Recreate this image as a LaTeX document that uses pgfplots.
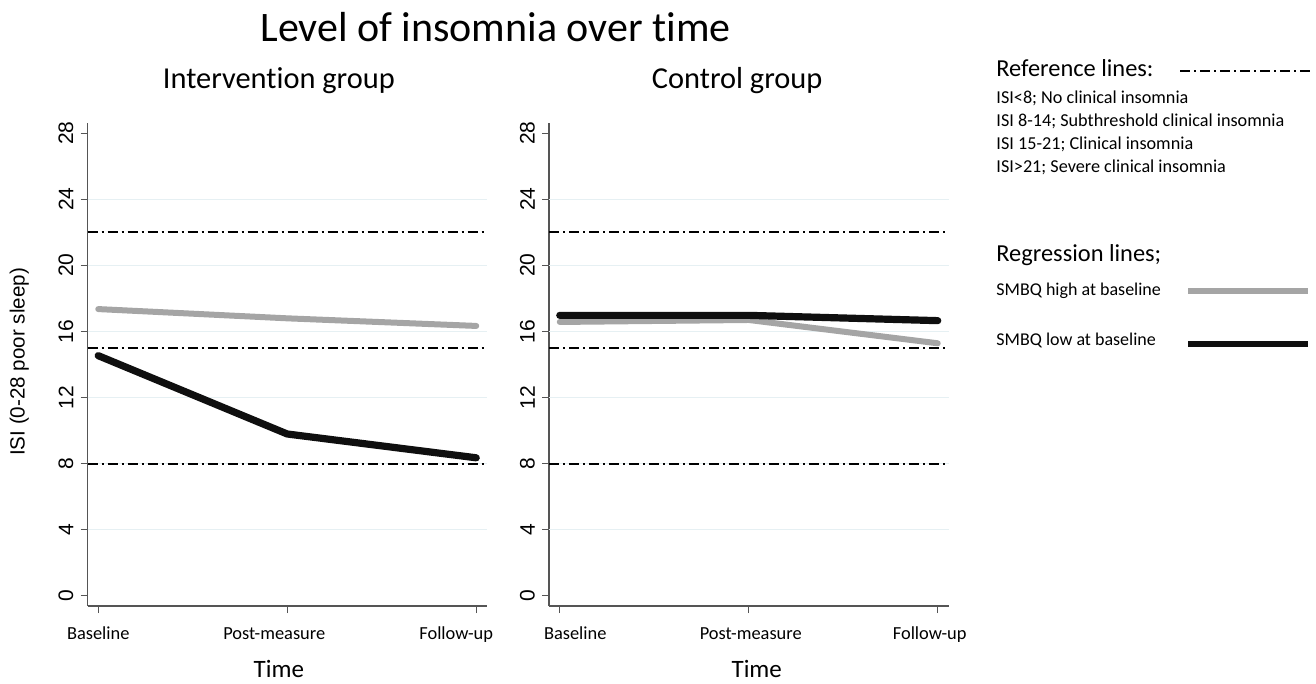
\documentclass[border=0pt]{standalone}
\usepackage{pgfplots}
\pgfplotsset{compat=1.18}
\usepackage{fontspec}
\setmainfont{Carlito}[Ligatures={NoCommon}]
\newfontfamily\arialfont{Liberation Sans}
\definecolor{hiGray}{RGB}{165,165,165}
\definecolor{loBlack}{RGB}{15,15,15}
\definecolor{gridc}{RGB}{230,240,243}
\definecolor{axc}{RGB}{85,85,85}
\tikzset{
 refline/.style={black, line width=1pt, dash pattern=on 5pt off 2pt on 1pt off 2pt},
 hi/.style={hiGray, line width=3pt, line cap=round, line join=round},
 lo/.style={loBlack, line width=3.6pt, line cap=round, line join=round},
}
\pgfplotsset{
 panel/.style={
  scale only axis, width=199.75pt, height=241.65pt, anchor=south west,
  xmin=-0.057, xmax=2.057, ymin=-0.62, ymax=28.63,
  axis x line*=bottom, axis y line*=left,
  axis line style={axc, line width=0.65pt, -},
  xtick={0,1,2}, ytick={0,4,...,28},
  tick align=outside, major tick length=3.5pt,
  tick style={axc, line width=0.6pt},
  yticklabel style={font=\arialfont\fontsize{10.5}{12}\selectfont, rotate=90, anchor=south},
  xticklabel style={font=\fontsize{9.2}{11}\selectfont, text height=6.5pt, text depth=2pt, yshift=-3.3pt},
  /pgf/number format/assume math mode=true,
  extra y ticks={4,8,...,24}, extra y tick labels={},
  extra y tick style={grid=major, major grid style={gridc, line width=0.5pt}, major tick length=0pt},
  xlabel style={font=\fontsize{12.5}{14}\selectfont, anchor=base},
  every axis title shift=0pt,
  title style={font=\fontsize{15.2}{17}\selectfont, anchor=base},
  clip=false,
 },
}
\begin{document}
\begin{tikzpicture}
\begin{axis}[panel, at={(43.75pt,-303pt)},
  xticklabels={Baseline,\hspace*{-13pt}Post-measure,\hspace*{-20pt}Follow-up},
  xlabel={Time}, xlabel style={at={(axis description cs:0.479,-0.147)}},
  ylabel={ISI (0-28 poor sleep)},
  ylabel style={font=\arialfont\fontsize{10.3}{12}\selectfont, at={(axis description cs:-0.171,0.505)}, anchor=center},
  title={Intervention group}, title style={at={(axis description cs:0.479,1.070)}}]
\addplot[refline] coordinates {(-0.057,22) (2.04,22)};
\addplot[refline] coordinates {(-0.057,15) (2.04,15)};
\addplot[refline] coordinates {(-0.057,8) (2.04,8)};
\addplot[hi] coordinates {(0,17.35) (1,16.79) (2,16.33)};
\addplot[lo] coordinates {(0,14.53) (1,9.79) (2,8.35)};
\end{axis}
\begin{axis}[panel, at={(274.5pt,-303pt)},
  xticklabels={\hspace*{15.5pt}Baseline,\hspace*{2pt}Post-measure,\hspace*{-8pt}Follow-up},
  xlabel={Time}, xlabel style={at={(axis description cs:0.52,-0.147)}},
  title={Control group}, title style={at={(axis description cs:0.471,1.070)}}]
\addplot[refline] coordinates {(-0.057,22) (2.04,22)};
\addplot[refline] coordinates {(-0.057,15) (2.04,15)};
\addplot[refline] coordinates {(-0.057,8) (2.04,8)};
\addplot[hi] coordinates {(0,16.57) (1,16.69) (2,15.28)};
\addplot[lo] coordinates {(0,16.97) (1,16.97) (2,16.65)};
\end{axis}
\begin{scope}[x=0.5pt,y=-0.5pt]
\path[use as bounding box] (0,0) rectangle (1316,682);
\node[anchor=base, font=\fontsize{21}{25}\selectfont] at (495.5,42) {Level of insomnia over time};
\node[anchor=base west, inner sep=0pt, font=\fontsize{12.2}{14}\selectfont] at (996,76.7) {Reference lines:};
\draw[refline] (1180,70.7) -- (1310,70.7);
\node[anchor=base west, inner sep=0pt, font=\fontsize{9.1}{11}\selectfont] at (996,104) {ISI<8; No clinical insomnia};
\node[anchor=base west, inner sep=0pt, font=\fontsize{9.1}{11}\selectfont] at (996,127) {ISI 8-14; Subthreshold clinical insomnia};
\node[anchor=base west, inner sep=0pt, font=\fontsize{9.1}{11}\selectfont] at (996,150) {ISI 15-21; Clinical insomnia};
\node[anchor=base west, inner sep=0pt, font=\fontsize{9.1}{11}\selectfont] at (996,172.7) {ISI>21; Severe clinical insomnia};
\node[anchor=base west, inner sep=0pt, font=\fontsize{12.2}{14}\selectfont] at (996,261.7) {Regression lines;};
\node[anchor=base west, inner sep=0pt, font=\fontsize{9}{11}\selectfont] at (996,296) {SMBQ high at baseline};
\draw[hiGray, line width=3pt] (1188,291) -- (1308,291);
\node[anchor=base west, inner sep=0pt, font=\fontsize{9}{11}\selectfont] at (996,346) {SMBQ low at baseline};
\draw[loBlack, line width=3.4pt] (1188,344) -- (1308,344);
\end{scope}
\end{tikzpicture}
\end{document}
